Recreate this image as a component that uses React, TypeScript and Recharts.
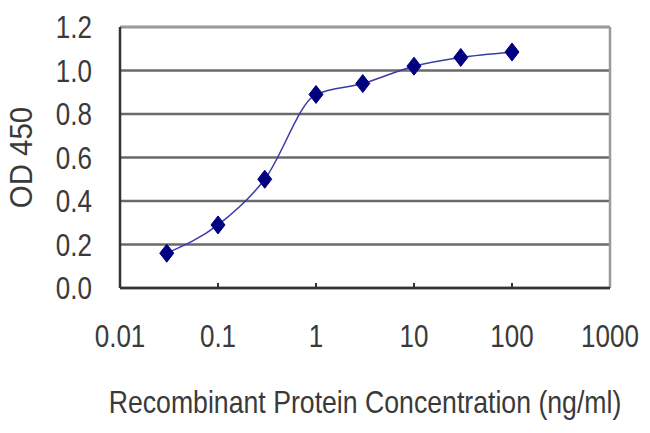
import {
  CartesianGrid,
  Label,
  Line,
  LineChart,
  ReferenceLine,
  XAxis,
  YAxis,
} from "recharts";

const concentrations = [0.03, 0.1, 0.3, 1, 3, 10, 30, 100];
const od450 = [0.16, 0.29, 0.5, 0.89, 0.94, 1.02, 1.06, 1.085];
const xTicks = [0.01, 0.1, 1, 10, 100, 1000];
const xTickLabels = ["0.01", "0.1", "1", "10", "100", "1000"];
const yTicks = [0, 0.2, 0.4, 0.6, 0.8, 1.0, 1.2];

const data = concentrations.map((c, i) => ({ conc: c, od: od450[i] }));

const FONT = "'Liberation Sans', Arial, sans-serif";
const TEXT = "#3a3a3a";
const FS = 31;
const SQUEEZE = 0.84;
const X_TICK_MARGIN = 37;

// narrow-looking text: squeeze horizontally along the text direction
function NarrowText({ x, y, angle = 0, anchor = "middle", dy = "0", sx = SQUEEZE, children }: any) {
  return (
    <text
      transform={`translate(${x},${y}) rotate(${angle}) scale(${sx},1)`}
      dy={dy}
      textAnchor={anchor}
      fill={TEXT}
      fontSize={FS}
      fontFamily={FONT}
    >
      {children}
    </text>
  );
}

function Diamond(props: any) {
  const { cx, cy, index } = props;
  if (cx == null || cy == null) return null;
  return (
    <polygon
      key={`d-${index}`}
      points={`${cx},${cy - 9} ${cx + 7},${cy} ${cx},${cy + 9} ${cx - 7},${cy}`}
      fill="#000080"
      stroke="#000080"
      strokeWidth={1}
    />
  );
}

function XTick(props: any) {
  const { x, y, payload, index } = props;
  const axisY = y - X_TICK_MARGIN;
  const i = xTicks.indexOf(payload.value);
  const inner = index > 0 && index < xTicks.length - 1;
  return (
    <g>
      {inner && (
        <line x1={x} x2={x} y1={axisY} y2={axisY - 5} stroke="#333" strokeWidth={2} />
      )}
      <NarrowText x={x} y={y} dy="0.71em">
        {i >= 0 ? xTickLabels[i] : payload.value}
      </NarrowText>
    </g>
  );
}

function YTick(props: any) {
  const { x, y, payload } = props;
  return (
    <NarrowText x={x} y={y} dy="0.355em" anchor="end">
      {Number(payload.value).toFixed(1)}
    </NarrowText>
  );
}

function XTitle(props: any) {
  const vb = props.viewBox || {};
  return (
    <NarrowText x={vb.x + vb.width / 2} y={vb.y + vb.height} sx={0.86}>
      Recombinant Protein Concentration (ng/ml)
    </NarrowText>
  );
}

function YTitle(props: any) {
  const vb = props.viewBox || {};
  return (
    <NarrowText x={21} y={vb.y + vb.height / 2} angle={-90} dy="0.355em" sx={0.95}>
      OD 450
    </NarrowText>
  );
}

export default function App() {
  return (
    <div style={{ position: "absolute", left: 0, top: 0, width: 650, height: 433, background: "#fff" }}>
      <LineChart
        width={650}
        height={433}
        data={data}
        margin={{ top: 27, right: 40, left: 0, bottom: 20 }}
      >
        <CartesianGrid vertical={false} stroke="#6a6a6a" strokeWidth={2.5} />
        <XAxis
          dataKey="conc"
          type="number"
          scale="log"
          domain={[0.01, 1000]}
          ticks={xTicks}
          allowDataOverflow
          height={125}
          tickSize={0}
          tickMargin={X_TICK_MARGIN}
          tick={<XTick />}
          axisLine={{ stroke: "#333", strokeWidth: 2.5 }}
          tickLine={false}
        >
          <Label content={<XTitle />} />
        </XAxis>
        <YAxis
          type="number"
          domain={[0, 1.2]}
          ticks={yTicks}
          width={120}
          tickSize={0}
          tickMargin={28}
          tickLine={false}
          tick={<YTick />}
          axisLine={{ stroke: "#333", strokeWidth: 2.5 }}
        >
          <Label content={<YTitle />} />
        </YAxis>
        <ReferenceLine y={1.2} stroke="#9a9a9a" strokeWidth={2.5} />
        <ReferenceLine x={1000} stroke="#9a9a9a" strokeWidth={2.5} />
        <Line
          type="monotone"
          dataKey="od"
          stroke="#3a3aa8"
          strokeWidth={1.5}
          dot={<Diamond />}
          activeDot={false}
          isAnimationActive={false}
        />
      </LineChart>
    </div>
  );
}
